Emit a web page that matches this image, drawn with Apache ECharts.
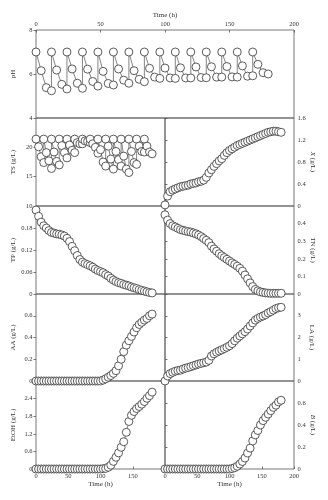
<!DOCTYPE html>
<html>
<head>
<meta charset="utf-8">
<script src="https://cdn.jsdelivr.net/npm/echarts@6/dist/echarts.min.js"></script>
<style>
  html, body { margin: 0; padding: 0; background: #fff; }
  #chart { width: 328px; height: 500px; }
</style>
</head>
<body>
<div id="chart"></div>
<script>
// Sampling times (h) for the continuously measured variables
const hours = [0,4,8,12,16,20,24,28,32,36,40,44,48,52,56,60,64,68,72,76,80,84,88,92,
  96,100,104,108,112,116,120,124,128,132,136,140,144,148,152,156,160,164,168,172,176,180];

// Fed-batch cycles: each 12 h cycle ends with a feed, so the end time appears twice
const cycleHours = [0,4,8,12, 12,16,20,24, 24,28,32,36, 36,40,44,48, 48,52,56,60,
  60,64,68,72, 72,76,80,84, 84,88,92,96, 96,100,104,108, 108,112,116,120,
  120,124,128,132, 132,136,140,144, 144,148,152,156, 156,160,164,168, 168,172,176,180];

const phValues = [7.0,6.15,5.38,5.24, 7.0,6.18,5.53,5.32, 7.0,6.23,5.58,5.35,
  7.0,6.22,5.66,5.45, 7.0,6.12,5.57,5.50, 7.0,6.23,5.72,5.58, 7.0,6.15,5.76,5.65,
  7.0,6.26,5.86,5.80, 7.0,6.27,5.82,5.80, 7.0,6.28,5.82,5.82, 7.0,6.32,5.84,5.83,
  7.0,6.33,5.86,5.86, 7.0,6.34,5.87,5.86, 7.0,6.37,5.90,5.92, 7.0,6.44,6.06,6.00];

const tsValues = [21.4,20.1,18.4,17.4, 21.4,19.1,17.7,16.4, 21.4,19.2,17.6,17.0,
  21.4,20.3,19.1,18.2, 21.4,20.4,19.5,19.1, 21.4,20.8,20.6,20.6, 21.4,21.1,21.0,20.8,
  21.4,20.6,20.0,19.0, 21.4,19.6,17.5,16.8, 21.4,20.2,18.0,16.3, 21.4,19.3,17.9,16.8,
  21.4,18.5,16.3,15.7, 21.4,19.3,17.4,17.1, 21.4,20.2,19.3,19.2, 21.4,20.2,19.2,18.9];

const biomassX = [0.02,0.18,0.26,0.29,0.31,0.33,0.35,0.36,0.37,0.38,0.40,0.41,0.42,0.44,0.45,0.47,
  0.52,0.60,0.66,0.72,0.77,0.82,0.86,0.92,0.97,1.01,1.04,1.07,1.10,1.12,1.14,1.16,1.18,1.20,
  1.22,1.24,1.26,1.28,1.30,1.32,1.34,1.35,1.36,1.36,1.35,1.34];

const totalP = [0.229,0.212,0.196,0.186,0.180,0.173,0.168,0.166,0.164,0.163,0.161,0.158,0.152,
  0.143,0.130,0.118,0.105,0.094,0.087,0.083,0.080,0.077,0.073,0.068,0.064,0.061,0.058,0.053,
  0.049,0.043,0.038,0.034,0.031,0.029,0.026,0.024,0.022,0.019,0.017,0.015,0.012,0.010,0.008,
  0.006,0.004,0.003];

const totalN = [0.45,0.42,0.40,0.388,0.381,0.373,0.366,0.362,0.358,0.355,0.352,0.347,0.342,
  0.335,0.326,0.315,0.305,0.292,0.272,0.256,0.243,0.229,0.217,0.207,0.197,0.187,0.177,0.168,
  0.158,0.146,0.130,0.108,0.086,0.063,0.042,0.026,0.018,0.012,0.009,0.006,0.005,0.004,0.004,
  0.004,0.004,0.004];

const aceticAcid = [0,0,0,0,0,0,0,0,0,0,0,0,0,0,0,0,0,0,0,0,0,0,0,0,0,0,
  0.008,0.02,0.035,0.05,0.07,0.095,0.14,0.20,0.27,0.33,0.37,0.41,0.45,0.49,0.52,0.54,0.56,
  0.575,0.60,0.615];

const lacticAcid = [0,0.23,0.34,0.40,0.45,0.48,0.50,0.55,0.59,0.62,0.66,0.70,0.74,0.78,0.81,
  0.84,0.87,0.95,1.15,1.25,1.32,1.38,1.43,1.49,1.55,1.62,1.72,1.85,1.97,2.07,2.17,2.27,2.39,
  2.53,2.67,2.80,2.88,2.94,2.99,3.05,3.13,3.19,3.26,3.33,3.37,3.39];

const ethanol = [0,0,0,0,0,0,0,0,0,0,0,0,0,0,0,0,0,0,0,0,0,0,0,0,0,0,
  0.01,0.02,0.06,0.13,0.26,0.40,0.55,0.74,0.93,1.25,1.62,1.83,1.96,2.06,2.13,2.21,2.30,
  2.41,2.50,2.62];

const bValues = [0,0,0,0,0,0,0,0,0,0,0,0,0,0,0,0,0,0,0,0,0,0,0,0,0,0,
  0.004,0.012,0.025,0.045,0.068,0.10,0.145,0.19,0.255,0.31,0.35,0.40,0.44,0.47,0.50,0.53,
  0.56,0.58,0.61,0.625];

const timeTicks = [0, 200, 50];   // min, max, step of every time axis

const pairs = (xs, ys) => xs.map((x, i) => [x, ys[i]]);

const FONT = "'Liberation Serif', 'DejaVu Serif', serif";
const INK = '#333';
const FRAME = '#555';

// Panel frames: [left, top, width, height]
const frames = [
  [36, 30, 258, 88],    // pH
  [36, 118, 129, 88],   // TS
  [165, 118, 129, 88],  // X
  [36, 206, 129, 88],   // TP
  [165, 206, 129, 88],  // TN
  [36, 294, 129, 87],   // AA
  [165, 294, 129, 87],  // LA
  [36, 381, 129, 88],   // EtOH
  [165, 381, 129, 88]   // B
];

const grid = frames.map(f => ({
  left: f[0], top: f[1], width: f[2], height: f[3],
  show: true, borderColor: FRAME, borderWidth: 0.8, backgroundColor: 'transparent',
  containLabel: false
}));

const labelStyle = { color: INK, fontFamily: FONT, fontSize: 6.5 };
const nameStyle = {
  color: INK, fontFamily: FONT, fontSize: 7,
  rich: { i: { fontStyle: 'italic', fontFamily: FONT, fontSize: 7, color: INK } }
};

function timeAxis(gridIndex, opts) {
  const shown = !!opts;
  const o = opts || {};
  return {
    type: 'value', gridIndex,
    min: timeTicks[0], max: timeTicks[1], interval: timeTicks[2],
    position: o.position || 'bottom',
    axisLine: { show: false },
    splitLine: { show: false },
    axisTick: { show: shown, inside: true, length: 2.5, lineStyle: { color: FRAME, width: 0.8 } },
    axisLabel: Object.assign({ show: shown, margin: o.margin || 4, showMaxLabel: o.showMax !== false }, labelStyle),
    name: shown ? 'Time (h)' : '',
    nameLocation: 'middle', nameGap: o.nameGap || 12,
    nameTextStyle: nameStyle
  };
}

function valueAxis(gridIndex, side, min, max, step, name, showMax) {
  const right = side === 'right';
  return {
    type: 'value', gridIndex, position: side,
    min, max, interval: step,
    axisLine: { show: false },
    splitLine: { show: false },
    axisTick: { show: true, inside: false, length: 2.5, lineStyle: { color: FRAME, width: 0.8 } },
    axisLabel: Object.assign({ margin: 3.5, showMaxLabel: showMax }, labelStyle),
    name, nameLocation: 'middle',
    nameGap: right ? 14 : 19,
    nameRotate: right ? -90 : 90,
    nameTextStyle: nameStyle
  };
}

const xAxis = [
  timeAxis(0, { position: 'top', margin: 2, nameGap: 11 }),
  timeAxis(1), timeAxis(2), timeAxis(3), timeAxis(4), timeAxis(5), timeAxis(6),
  timeAxis(7, { showMax: false, margin: 4, nameGap: 12 }),
  timeAxis(8, { margin: 4, nameGap: 12 })
];

const yAxis = [
  valueAxis(0, 'left', 4, 8, 2, 'pH', true),
  valueAxis(1, 'left', 10, 25, 5, 'TS (g/L)', false),
  valueAxis(2, 'right', 0, 1.6, 0.4, '{i|X} (g/L)', true),
  valueAxis(3, 'left', 0, 0.24, 0.06, 'TP (g/L)', false),
  valueAxis(4, 'right', 0, 0.5, 0.1, 'TN (g/L)', false),
  valueAxis(5, 'left', 0, 0.8, 0.2, 'AA (g/L)', false),
  valueAxis(6, 'right', 0, 4, 1, 'LA (g/L)', false),
  valueAxis(7, 'left', 0, 3, 0.6, 'EtOH (g/L)', false),
  valueAxis(8, 'right', 0, 0.8, 0.2, '{i|B} (g/L)', false)
];

function markerSeries(name, idx, data) {
  return {
    name, type: 'line', xAxisIndex: idx, yAxisIndex: idx, data,
    symbol: 'circle', symbolSize: 8, clip: false,
    lineStyle: { color: '#666', width: 0.8 },
    itemStyle: { color: '#fff', borderColor: '#333', borderWidth: 0.8 },
    animation: false
  };
}

const series = [
  markerSeries('pH', 0, pairs(cycleHours, phValues)),
  markerSeries('TS', 1, pairs(cycleHours, tsValues)),
  markerSeries('X', 2, pairs(hours, biomassX)),
  markerSeries('TP', 3, pairs(hours, totalP)),
  markerSeries('TN', 4, pairs(hours, totalN)),
  markerSeries('AA', 5, pairs(hours, aceticAcid)),
  markerSeries('LA', 6, pairs(hours, lacticAcid)),
  markerSeries('EtOH', 7, pairs(hours, ethanol)),
  markerSeries('B', 8, pairs(hours, bValues))
];

const chart = echarts.init(document.getElementById('chart'), null, { renderer: 'canvas' });
chart.setOption({ animation: false, backgroundColor: '#fff', grid, xAxis, yAxis, series });
</script>
</body>
</html>
